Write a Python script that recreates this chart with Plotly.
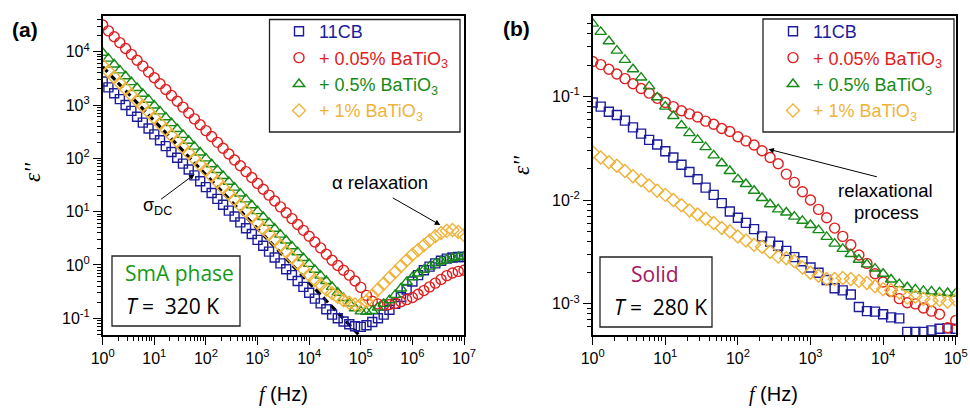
import plotly.graph_objects as go

# ---------------- data ----------------
# frequencies (Hz), 9 points per decade
freq_left = [1, 1.29, 1.67, 2.15, 2.78, 3.59, 4.64, 5.99, 7.74,
             10, 12.9, 16.7, 21.5, 27.8, 35.9, 46.4, 59.9, 77.4,
             100, 129, 167, 215, 278, 359, 464, 599, 774,
             1e3, 1.29e3, 1.67e3, 2.15e3, 2.78e3, 3.59e3, 4.64e3, 5.99e3, 7.74e3,
             1e4, 1.29e4, 1.67e4, 2.15e4, 2.78e4, 3.59e4, 4.64e4, 5.99e4, 7.74e4,
             1e5, 1.29e5, 1.67e5, 2.15e5, 2.78e5, 3.59e5, 4.64e5, 5.99e5, 7.74e5,
             1e6, 1.29e6, 1.67e6, 2.15e6, 2.78e6, 3.59e6, 4.64e6, 5.99e6, 7.74e6,
             1e7]
freq_right = [1, 1.29, 1.67, 2.15, 2.78, 3.59, 4.64, 5.99, 7.74,
              10, 12.9, 16.7, 21.5, 27.8, 35.9, 46.4, 59.9, 77.4,
              100, 129, 167, 215, 278, 359, 464, 599, 774,
              1e3, 1.29e3, 1.67e3, 2.15e3, 2.78e3, 3.59e3, 4.64e3, 5.99e3, 7.74e3,
              1e4, 1.29e4, 1.67e4, 2.15e4, 2.78e4, 3.59e4, 4.64e4, 5.99e4, 7.74e4,
              1e5]

# log10(eps'') values, panel (a) SmA phase, T = 320 K
log_eps_a_11cb = [3.44, 3.33, 3.22, 3.11, 3.00, 2.89, 2.78, 2.67, 2.56,
                  2.45, 2.34, 2.23, 2.12, 2.01, 1.90, 1.79, 1.68, 1.57,
                  1.46, 1.35, 1.24, 1.13, 1.02, 0.91, 0.80, 0.69, 0.58,
                  0.47, 0.36, 0.25, 0.14, 0.03, -0.08, -0.19, -0.30, -0.41,
                  -0.52, -0.63, -0.72, -0.83, -0.93, -1.00, -1.06, -1.11, -1.15,
                  -1.16, -1.13, -1.07, -1.00, -0.93, -0.84, -0.73, -0.60, -0.46,
                  -0.31, -0.19, -0.10, -0.03, 0.03, 0.08, 0.12, 0.14, 0.15,
                  0.15]
log_eps_a_005 = [4.50, 4.39, 4.28, 4.17, 4.06, 3.95, 3.84, 3.73, 3.62,
                 3.51, 3.40, 3.29, 3.18, 3.07, 2.96, 2.85, 2.74, 2.63,
                 2.52, 2.41, 2.30, 2.19, 2.08, 1.97, 1.86, 1.75, 1.64,
                 1.53, 1.42, 1.31, 1.20, 1.09, 0.98, 0.87, 0.76, 0.65,
                 0.54, 0.43, 0.32, 0.20, 0.09, -0.01, -0.10, -0.19, -0.30,
                 -0.42, -0.57, -0.68, -0.73, -0.75, -0.74, -0.72, -0.69, -0.65,
                 -0.61, -0.55, -0.48, -0.41, -0.34, -0.27, -0.20, -0.15, -0.12,
                 -0.10]
log_eps_a_05 = [3.98, 3.87, 3.76, 3.65, 3.54, 3.43, 3.32, 3.21, 3.10,
                2.99, 2.88, 2.77, 2.66, 2.55, 2.44, 2.33, 2.22, 2.11,
                2.00, 1.89, 1.78, 1.67, 1.56, 1.45, 1.34, 1.23, 1.12,
                1.01, 0.90, 0.79, 0.68, 0.57, 0.46, 0.35, 0.24, 0.13,
                0.02, -0.09, -0.20, -0.30, -0.41, -0.52, -0.62, -0.72, -0.81,
                -0.87, -0.88, -0.86, -0.80, -0.73, -0.66, -0.56, -0.44, -0.32,
                -0.23, -0.16, -0.09, -0.03, 0.03, 0.07, 0.10, 0.13, 0.15,
                0.16]
log_eps_a_1 = [3.74, 3.63, 3.52, 3.41, 3.30, 3.19, 3.08, 2.98, 2.87,
               2.76, 2.65, 2.54, 2.43, 2.32, 2.21, 2.10, 1.99, 1.88,
               1.78, 1.67, 1.56, 1.45, 1.34, 1.23, 1.12, 1.01, 0.90,
               0.79, 0.68, 0.58, 0.47, 0.36, 0.25, 0.14, 0.03, -0.08,
               -0.19, -0.28, -0.37, -0.46, -0.53, -0.60, -0.66, -0.71, -0.74,
               -0.74, -0.68, -0.57, -0.46, -0.35, -0.24, -0.13, -0.02, 0.09,
               0.19, 0.28, 0.37, 0.46, 0.54, 0.60, 0.64, 0.655, 0.62,
               0.56]

# log10(eps'') values, panel (b) Solid, T = 280 K
log_eps_b_11cb = [-1.06, -1.10, -1.15, -1.18, -1.235, -1.30, -1.36, -1.42, -1.465,
                  -1.53, -1.59, -1.66, -1.73, -1.80, -1.88, -1.95, -2.03, -2.11,
                  -2.17, -2.22, -2.28, -2.35, -2.40, -2.44, -2.49, -2.55, -2.59,
                  -2.65, -2.70, -2.77, -2.85, -2.87, -2.91, -3.03, -3.07, -3.075,
                  -3.10, -3.13, -3.14, -3.27, -3.27, -3.27, -3.255, -3.24, -3.235,
                  -3.24]
log_eps_b_005 = [-0.665, -0.695, -0.74, -0.785, -0.83, -0.88, -0.925, -0.97, -1.02,
                 -1.06, -1.10, -1.14, -1.17, -1.20, -1.24, -1.27, -1.31, -1.34,
                 -1.39, -1.43, -1.47, -1.525, -1.59, -1.65, -1.75, -1.83, -1.92,
                 -2.00, -2.09, -2.17, -2.27, -2.35, -2.43, -2.53, -2.61, -2.71,
                 -2.79, -2.88, -2.95, -2.99, -3.00, -3.04, -3.07, -3.10, -3.23,
                 -3.16]
log_eps_b_05 = [-0.30, -0.38, -0.47, -0.56, -0.65, -0.74, -0.82, -0.905, -1.01,
                -1.10, -1.19, -1.28, -1.355, -1.42, -1.49, -1.57, -1.645, -1.72,
                -1.80, -1.845, -1.91, -1.98, -2.04, -2.09, -2.12, -2.16, -2.20,
                -2.24, -2.29, -2.355, -2.42, -2.47, -2.52, -2.575, -2.62, -2.66,
                -2.71, -2.765, -2.81, -2.84, -2.86, -2.875, -2.88, -2.89, -2.895,
                -2.90]
log_eps_b_1 = [-1.54, -1.59, -1.635, -1.67, -1.72, -1.77, -1.81, -1.86, -1.91,
               -1.95, -2.00, -2.05, -2.10, -2.14, -2.18, -2.22, -2.27, -2.30,
               -2.35, -2.39, -2.43, -2.45, -2.50, -2.545, -2.56, -2.59, -2.65,
               -2.70, -2.73, -2.76, -2.76, -2.75, -2.76, -2.78, -2.80, -2.83,
               -2.86, -2.87, -2.89, -2.94, -2.93, -2.95, -2.97, -2.96, -2.98,
               -2.96]

# DC-conductivity guide line (panel a)
sigma_dc_freq = [1, 1e5]
sigma_dc_eps = [5.2e3, 0.045]

series_names = ['11CB', '+ 0.05% BaTiO<sub>3</sub>', '+ 0.5% BaTiO<sub>3</sub>', '+ 1% BaTiO<sub>3</sub>']
series_colors = ['#1c1c9c', '#e02020', '#168a16', '#efb33a']
series_symbols = ['square-open', 'circle-open', 'triangle-up-open', 'diamond-open']
series_sizes = [9, 10, 10, 10]

x_ticks_a = [1, 10, 100, 1e3, 1e4, 1e5, 1e6, 1e7]
x_ticklabels_a = ['10<sup>0</sup>', '10<sup>1</sup>', '10<sup>2</sup>', '10<sup>3</sup>',
                  '10<sup>4</sup>', '10<sup>5</sup>', '10<sup>6</sup>', '10<sup>7</sup>']
y_ticks_a = [0.1, 1, 10, 100, 1e3, 1e4]
y_ticklabels_a = ['10<sup>-1</sup>', '10<sup>0</sup>', '10<sup>1</sup>', '10<sup>2</sup>',
                  '10<sup>3</sup>', '10<sup>4</sup>']
x_ticks_b = [1, 10, 100, 1e3, 1e4, 1e5]
x_ticklabels_b = ['10<sup>0</sup>', '10<sup>1</sup>', '10<sup>2</sup>', '10<sup>3</sup>',
                  '10<sup>4</sup>', '10<sup>5</sup>']
y_ticks_b = [1e-3, 1e-2, 1e-1]
y_ticklabels_b = ['10<sup>-3</sup>', '10<sup>-2</sup>', '10<sup>-1</sup>']

# ---------------- layout geometry (pixels) ----------------
FW, FH = 970, 408


def px(x):
    return x / FW


def py(y):
    return 1 - y / FH


XA = [102.7, 464.0]
XB = [592.7, 955.7]
YT, YB = 15.7, 335.0

fig = go.Figure()

panel_a = [log_eps_a_11cb, log_eps_a_005, log_eps_a_05, log_eps_a_1]
panel_b = [log_eps_b_11cb, log_eps_b_005, log_eps_b_05, log_eps_b_1]

fig.add_trace(go.Scatter(x=sigma_dc_freq, y=sigma_dc_eps, mode='lines',
                         line=dict(color='black', width=3.2, dash='7px,4px'),
                         xaxis='x', yaxis='y', showlegend=False, hoverinfo='skip'))

for i in range(4):
    c = series_colors[i]
    fig.add_trace(go.Scatter(
        x=freq_left, y=[10 ** v for v in panel_a[i]], mode='markers',
        marker=dict(symbol=series_symbols[i], size=series_sizes[i], color=c,
                    line=dict(width=1.4, color=c)),
        name='<span style="color:%s">%s</span>' % (c, series_names[i]),
        xaxis='x', yaxis='y', legend='legend', legendgroup='a%d' % i))
for i in range(4):
    c = series_colors[i]
    fig.add_trace(go.Scatter(
        x=freq_right, y=[10 ** v for v in panel_b[i]], mode='markers',
        marker=dict(symbol=series_symbols[i], size=series_sizes[i], color=c,
                    line=dict(width=1.4, color=c)),
        name='<span style="color:%s">%s</span>' % (c, series_names[i]),
        xaxis='x2', yaxis='y2', legend='legend2', legendgroup='b%d' % i))


def minor_vals(e0, e1):
    return [m * 10.0 ** e for e in range(e0, e1) for m in range(2, 10)]


tickfont = dict(family='Liberation Sans', size=16, color='black')
common = dict(type='log', showgrid=False, zeroline=False, showline=True,
              linecolor='black', linewidth=1.5, mirror=True, ticks='outside',
              ticklen=8, tickwidth=1.2, tickcolor='black', tickfont=tickfont,
              automargin=False)

ydom = [py(YB), py(YT)]
fig.update_layout(
    width=FW, height=FH, margin=dict(l=0, r=0, t=0, b=0),
    paper_bgcolor='white', plot_bgcolor='white',
    xaxis=dict(domain=[px(XA[0]), px(XA[1])], range=[0, 7], tickmode='array',
               tickvals=x_ticks_a, ticktext=x_ticklabels_a, anchor='y',
               minor=dict(tickmode='array', tickvals=minor_vals(0, 7), ticks='outside',
                          ticklen=4, tickwidth=1, tickcolor='black'), **common),
    yaxis=dict(domain=ydom, range=[-1.313, 4.675], tickmode='array',
               tickvals=y_ticks_a, ticktext=y_ticklabels_a, anchor='x',
               minor=dict(tickmode='array', tickvals=minor_vals(-2, 5), ticks='outside',
                          ticklen=4, tickwidth=1, tickcolor='black'), **common),
    xaxis2=dict(domain=[px(XB[0]), px(XB[1])], range=[0, 5], tickmode='array',
                tickvals=x_ticks_b, ticktext=x_ticklabels_b, anchor='y2',
                minor=dict(tickmode='array', tickvals=minor_vals(0, 5), ticks='outside',
                           ticklen=4, tickwidth=1, tickcolor='black'), **common),
    yaxis2=dict(domain=ydom, range=[-3.30, -0.224], tickmode='array',
                tickvals=y_ticks_b, ticktext=y_ticklabels_b, anchor='x2',
                minor=dict(tickmode='array', tickvals=minor_vals(-4, 0), ticks='outside',
                           ticklen=4, tickwidth=1, tickcolor='black'), **common),
    legend=dict(x=px(279), y=py(13), xanchor='left', yanchor='top',
                bgcolor='rgba(0,0,0,0)', borderwidth=0, traceorder='grouped',
                tracegroupgap=0, font=dict(family='Liberation Sans', size=18)),
    legend2=dict(x=px(773), y=py(13), xanchor='left', yanchor='top',
                 bgcolor='rgba(0,0,0,0)', borderwidth=0, traceorder='grouped',
                 tracegroupgap=0, font=dict(family='Liberation Sans', size=18)),
)

box_line = dict(color='#222222', width=1.3)
shapes = [
    dict(type='rect', xref='paper', yref='paper', x0=px(269.5), x1=px(460), y0=py(132), y1=py(19.5), line=box_line),
    dict(type='rect', xref='paper', yref='paper', x0=px(763), x1=px(954), y0=py(132), y1=py(19), line=box_line),
    dict(type='rect', xref='paper', yref='paper', x0=px(112), x1=px(240), y0=py(326), y1=py(256), line=box_line),
    dict(type='rect', xref='paper', yref='paper', x0=px(600), x1=px(712), y0=py(327), y1=py(257), line=box_line),
]
fig.update_layout(shapes=shapes)

ann = []


def text(x, y, t, size=16, family='Liberation Sans', color='black', angle=0):
    ann.append(dict(xref='paper', yref='paper', x=px(x), y=py(y), text=t, showarrow=False,
                    xanchor='center', yanchor='middle', textangle=angle,
                    font=dict(family=family, size=size, color=color)))


text(25, 30, '<b>(a)</b>', size=21)
text(516, 29, '<b>(b)</b>', size=21)
text(32, 172, "<i>ε''</i>", size=23, family='Liberation Serif', angle=-90)
text(521, 165, "<i>ε''</i>", size=23, family='Liberation Serif', angle=-90)
xt = '<span style="font-family:Liberation Serif"><i>f</i></span> (Hz)'
text(283, 394, xt, size=20)
text(773, 394, xt, size=20)
text(179, 273, 'SmA phase', size=21, family='Open Sans', color='#169a16')
text(172, 306, '<i>T</i> =  320 K', size=21, family='Open Sans')
text(655, 274, 'Solid', size=21, family='Open Sans', color='#a3175f')
text(660, 307, '<i>T</i> =  280 K', size=21, family='Open Sans')
text(380, 183, 'α relaxation', size=18.5)
text(157, 206, 'σ<sub>DC</sub>', size=18)
text(885, 190, 'relaxational', size=18.5)
text(886, 212, 'process', size=18.5)


def arrow(xref, yref, x, y, ax, ay, head=2, size=1.1, width=1.0):
    ann.append(dict(xref=xref, yref=yref, x=x, y=y, ax=ax, ay=ay, text='',
                    showarrow=True, arrowhead=head, arrowsize=size, arrowwidth=width,
                    arrowcolor='black'))


# arrows (heads in log10 data coordinates)
arrow('x', 'y', 6.54, 0.75, -49, -28)
arrow('x', 'y', 1.78, 1.70, -35, 26)
arrow('x2', 'y2', 2.42, -1.51, 110, 28)
arrow('x', 'y', -0.10, 3.82, 7, 7, size=1.0, width=2)
arrow('x', 'y', 5.0, -1.33, -7, -7, size=1.0, width=2)

fig.update_layout(annotations=ann)
fig.write_html('out.html', config={'displayModeBar': False},
               post_script="document.body.style.margin='0';document.body.style.padding='0';")
